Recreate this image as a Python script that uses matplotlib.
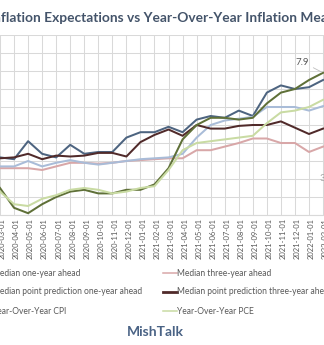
import numpy as np
import pandas as pd
import matplotlib
matplotlib.use("Agg")
import matplotlib.pyplot as plt
from matplotlib.lines import Line2D
from matplotlib.font_manager import FontProperties
from matplotlib import transforms

# Monthly observations, March 2020 through February 2022
months = pd.date_range("2020-03-01", "2022-02-01", freq="MS").strftime("%Y-%m-%d").tolist()

median_one_year = [3.2, 3.1, 4.1, 3.4, 3.2, 3.9, 3.4, 3.5, 3.5, 4.3, 4.6, 4.6,
                   4.9, 4.6, 5.3, 5.5, 5.4, 5.8, 5.5, 6.8, 7.2, 7.0, 7.1, 7.5]
median_three_year = [2.6, 2.6, 2.6, 2.5, 2.7, 2.9, 2.9, 2.85, 2.9, 3.0, 3.05, 3.1,
                     3.15, 3.15, 3.6, 3.6, 3.8, 4.0, 4.25, 4.25, 4.0, 4.0, 3.5, 3.8]
point_one_year = [2.7, 2.7, 3.0, 2.7, 2.9, 3.05, 2.9, 2.8, 2.9, 3.0, 3.1, 3.15,
                  3.2, 3.4, 4.3, 5.0, 5.25, 5.35, 5.45, 6.0, 6.0, 6.0, 5.8, 6.05]
point_three_year = [3.15, 3.2, 3.4, 3.1, 3.3, 3.25, 3.3, 3.45, 3.45, 3.25, 4.05, 4.45,
                    4.75, 4.4, 5.0, 4.8, 4.8, 4.95, 5.0, 5.0, 5.2, 4.85, 4.5, 4.8]
yoy_cpi = [1.5, 0.4, 0.1, 0.6, 1.0, 1.3, 1.4, 1.2, 1.2, 1.4, 1.4, 1.7,
           2.6, 4.2, 5.0, 5.4, 5.4, 5.3, 5.4, 6.2, 6.8, 7.0, 7.5, 7.9]
yoy_pce = [1.3, 0.6, 0.5, 0.9, 1.1, 1.4, 1.5, 1.4, 1.2, 1.3, 1.5, 1.6,
           2.5, 3.6, 4.0, 4.1, 4.2, 4.3, 4.4, 5.1, 5.7, 5.8, 6.0, 6.4]

series_names = ["Median one-year ahead", "Median three-year ahead",
                "Median point prediction one-year ahead",
                "Median point prediction three-year ahead",
                "Year-Over-Year CPI", "Year-Over-Year PCE"]
series_values = [median_one_year, median_three_year, point_one_year,
                 point_three_year, yoy_cpi, yoy_pce]
colors = ["#4D6480", "#D8A7A8", "#A9BCD8", "#502A2A", "#5F7038", "#C9DBA3"]
widths = [1.45, 1.45, 1.45, 1.45, 1.45, 1.45]

title = "Inflation Expectations vs Year-Over-Year Inflation Measures"
TITLE_C = "#44546A"
TEXT_C = "#595959"
GRID_C = "#D9D9D9"

W, H = 324, 345
fig = plt.figure(figsize=(W / 100, H / 100), dpi=100)
fig.patch.set_facecolor("white")
renderer = fig.canvas.get_renderer()


def text_px(s, prop):
    w, h, d = renderer.get_text_width_height_descent(s, prop, ismath=False)
    return w


def fitted(prop, sample, target):
    prop = prop.copy()
    base = prop.get_size_in_points()
    prop.set_size(base * target / text_px(sample, prop))
    return prop


# Plot area
x = np.arange(len(months))
step = 14.41
first = 1  # index of 2020-04
ax = fig.add_axes([0, (H - 215) / H, 1, 180 / H])
ax.set_xlim(first - 6 / step, first + (W - 6) / step)
ax.set_ylim(0, 10)
ax.set_xticks(x)
ax.set_yticks(np.arange(0, 11, 1))
ax.grid(True, color=GRID_C, lw=0.75)
ax.set_axisbelow(True)
for side in ["left", "right", "top"]:
    ax.spines[side].set_visible(False)
ax.spines["bottom"].set_color(GRID_C)
ax.spines["bottom"].set_linewidth(0.8)
ax.tick_params(axis="y", length=0, labelleft=False)
ax.tick_params(axis="x", length=0, pad=2)
ax.set_xticklabels(months, rotation=90, fontsize=5.5, color=TEXT_C, fontfamily="Lato")
shift = transforms.ScaledTranslation(2.5 / 100, 0, fig.dpi_scale_trans)
for lbl in ax.get_xticklabels():
    lbl.set_transform(lbl.get_transform() + shift)

for vals, c, lw in zip(series_values, colors, widths):
    ax.plot(x, vals, color=c, lw=lw, solid_joinstyle="round", clip_on=True)

# Data labels at the last month
ax.annotate(f"{yoy_cpi[-1]:.1f}", xy=(x[-1], yoy_cpi[-1]), xytext=(-20.5, 10.7),
            textcoords="offset pixels", ha="center", va="center",
            fontsize=7, fontfamily="Lato", color=TEXT_C, annotation_clip=False,
            arrowprops=dict(arrowstyle="-", color="#BFBFBF", lw=0.6,
                            shrinkA=1, shrinkB=1))
ax.annotate(f"{median_three_year[-1]:.1f}", xy=(x[-1], median_three_year[-1]),
            xytext=(-3, -31.6), textcoords="offset pixels", ha="left", va="center",
            fontsize=7, fontfamily="Lato", color="#A6A6A6", annotation_clip=False)

# Title
tprop = fitted(FontProperties(family="Lato", weight="bold", size=10),
               "flation Expectations vs Year-Over-Year Inflation Mea", 325)
lead = text_px("In", tprop)
fig.text((1 - lead) / W, 1 - 21.7 / H, title, fontproperties=tprop,
         color=TITLE_C, ha="left", va="baseline")

# Legend, two columns
lprop = fitted(FontProperties(family="Lato", size=7), "Median three-year ahead", 95)
rows = [273, 292, 311]
left_text_x = -text_px("M", lprop)
order = [[0, 2, 4], [1, 3, 5]]
for col, idxs in enumerate(order):
    for r, k in zip(rows, idxs):
        if col == 0:
            tx = left_text_x
            hx0, hx1 = tx - 16, tx - 2
        else:
            tx = 177
            hx0, hx1 = 163, 177
        lw = 2.0 if k == 3 else 1.1
        fig.add_artist(Line2D([hx0 / W, hx1 / W], [1 - r / H, 1 - r / H],
                              transform=fig.transFigure, color=colors[k], lw=lw))
        fig.text(tx / W, 1 - r / H, series_names[k], fontproperties=lprop,
                 color=TEXT_C, ha="left", va="center")

# Source tag
mprop = fitted(FontProperties(family="Lato", weight="bold", size=10), "MishTalk", 57)
fig.text(155 / W, 1 - 332 / H, "MishTalk", fontproperties=mprop,
         color="#4A6385", ha="center", va="center")

fig.savefig("out.png", dpi=100, facecolor="white")
